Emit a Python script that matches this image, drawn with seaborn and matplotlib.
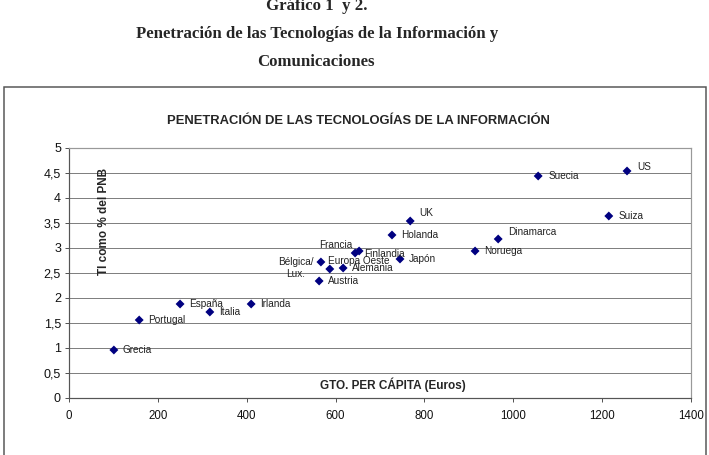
import numpy as np
import pandas as pd
import seaborn as sns
import matplotlib
matplotlib.use("Agg")
from matplotlib import pyplot as plt

# datos
paises = ["Grecia", "Portugal", "España", "Italia", "Irlanda", "Austria",
          "Bélgica/\nLux.", "Europa Oeste", "Alemania", "Francia", "Finlandia",
          "Japón", "Holanda", "UK", "Noruega", "Dinamarca", "Suecia", "US", "Suiza"]
gasto_pc = [101, 158, 250, 317, 410, 563, 567, 587, 617, 644, 653,
            745, 727, 768, 914, 966, 1056, 1256, 1215]
ti_pnb = [0.96, 1.56, 1.88, 1.72, 1.88, 2.34, 2.72, 2.58, 2.60, 2.90, 2.94,
          2.78, 3.26, 3.54, 2.94, 3.18, 4.44, 4.54, 3.64]
# desplazamiento de cada etiqueta (puntos) y alineacion
offsets = [(9, 0, "left"), (9, 0, "left"), (9, 0, "left"), (9, 0, "left"),
           (9, 0, "left"), (9, 0, "left"), (-25, -6, "center"), (-2, 8, "left"),
           (9, 0, "left"), (-19, 8, "center"), (5, -3, "left"), (9, 0, "left"),
           (9, 0, "left"), (9, 8, "left"), (9, 0, "left"), (10, 7, "left"),
           (10, 0, "left"), (10, 4, "left"), (10, 0, "left")]
xticks = [0, 200, 400, 600, 800, 1000, 1200, 1400]
yticks = [0, 0.5, 1, 1.5, 2, 2.5, 3, 3.5, 4, 4.5, 5]
ytick_labels = ["0", "0,5", "1", "1,5", "2", "2,5", "3", "3,5", "4", "4,5", "5"]

df = pd.DataFrame({"pais": paises, "gasto": gasto_pc, "ti": ti_pnb})

sns.set_theme(style="white")
plt.rcParams["font.family"] = ["Liberation Sans", "DejaVu Sans"]

W, H = 709, 455
fig = plt.figure(figsize=(W / 72, H / 72), dpi=72)
ax = fig.add_axes([69 / W, 1 - 398 / H, (691 - 69) / W, (398 - 148) / H])

sns.scatterplot(data=df, x="gasto", y="ti", marker="D", s=40, color="#000080",
                edgecolor="none", ax=ax, zorder=3, legend=False)

for nombre, xv, yv, (dx, dy, ha) in zip(paises, gasto_pc, ti_pnb, offsets):
    ax.annotate(nombre, (xv, yv), xytext=(dx, dy), textcoords="offset points",
                ha=ha, va="center", fontsize=10, color="#222222",
                linespacing=1.3, zorder=4)

ax.set_xlim(0, 1400)
ax.set_ylim(0, 5)
ax.set_xticks(xticks)
ax.set_xticklabels([str(t) for t in xticks], fontsize=11.5)
ax.set_yticks(yticks)
ax.set_yticklabels(ytick_labels, fontsize=12.5)
ax.tick_params(axis="both", direction="out", length=4, width=1, color="#555555",
               labelcolor="#111111", pad=4, bottom=True, left=True)
ax.tick_params(axis="x", pad=8)
ax.yaxis.grid(True, color="#808080", lw=1)
ax.set_axisbelow(True)
for s in ["top", "right"]:
    ax.spines[s].set_color("#999999")
    ax.spines[s].set_linewidth(1.2)
for s in ["left", "bottom"]:
    ax.spines[s].set_color("#555555")
    ax.spines[s].set_linewidth(1.2)
ax.set_xlabel("")
ax.set_ylabel("")

ax.text(104 / W, 1 - 221 / H, "TI como % del PNB", transform=fig.transFigure,
        rotation=90, ha="center", va="center", fontsize=11.7, fontweight="bold")
ax.text(393 / W, 1 - 385 / H, "GTO. PER CÁPITA (Euros)", transform=fig.transFigure,
        ha="center", va="center", fontsize=11.7, fontweight="bold")

fig.text(358 / W, 1 - 121 / H, "PENETRACIÓN DE LAS TECNOLOGÍAS DE LA INFORMACIÓN",
         ha="center", va="center", fontsize=13, fontweight="bold")

# caja exterior del grafico
fig.add_artist(plt.Rectangle((4 / W, -0.05), (706 - 4) / W, 0.05 + 1 - 87 / H,
                             transform=fig.transFigure, fill=False,
                             edgecolor="#555555", lw=1.5, clip_on=False))

serif = ["Liberation Serif", "DejaVu Serif"]
fig.text(317 / W, 1 - 6 / H, "Gráfico 1  y 2.", ha="center", va="center",
         fontsize=16.7, fontweight="bold", family=serif)
fig.text(317 / W, 1 - 34 / H, "Penetración de las Tecnologías de la Información y",
         ha="center", va="center", fontsize=16.7, fontweight="bold", family=serif)
fig.text(316 / W, 1 - 62 / H, "Comunicaciones", ha="center", va="center",
         fontsize=16.7, fontweight="bold", family=serif)

fig.savefig("out.png", dpi=72)
